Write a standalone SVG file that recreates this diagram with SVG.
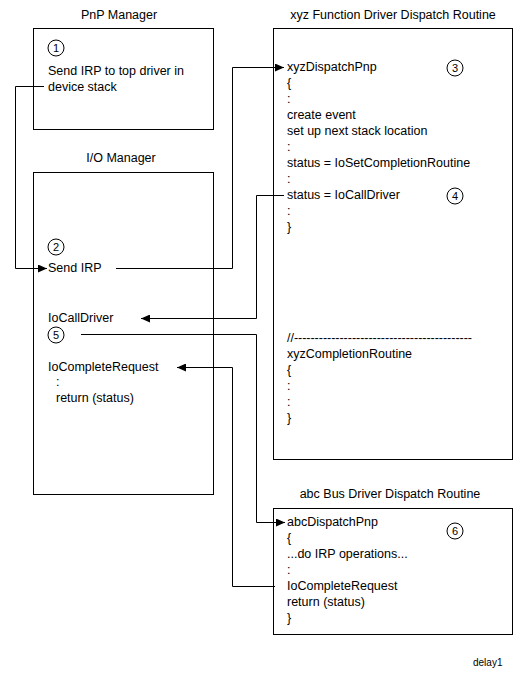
<svg xmlns="http://www.w3.org/2000/svg" width="516" height="679" viewBox="0 0 516 679">
<style>
text{font-family:"Liberation Sans",Arial,sans-serif;font-size:12.5px;fill:#000}
.t{text-anchor:middle}
.box{fill:#fff;stroke:#000;stroke-width:1}
.num circle{fill:none;stroke:#000;stroke-width:1}
.num text{font-size:11px;text-anchor:middle}
.c{fill:none;stroke:#000;stroke-width:1}
.small{font-size:10px}
</style>
<defs>
<marker id="ah" markerUnits="userSpaceOnUse" markerWidth="9" markerHeight="8" refX="9" refY="4" orient="auto">
<path d="M0,0 L9,4 L0,8 z" fill="#000"/>
</marker>
</defs>
<rect width="516" height="679" fill="#fff"/>

<g id="pnp-manager">
<text class="t" x="119" y="19">PnP Manager</text>
<rect class="box" x="33.5" y="28.5" width="180" height="101"/>
<g class="num"><circle cx="56" cy="48" r="8"/><text x="56" y="52">1</text></g>
<text x="48" y="75">Send IRP to top driver in</text>
<text x="48" y="91">device stack</text>
</g>

<g id="io-manager">
<text class="t" x="121" y="162">I/O Manager</text>
<rect class="box" x="33.5" y="172.5" width="180" height="322"/>
<g class="num"><circle cx="56" cy="247" r="8"/><text x="56" y="251">2</text></g>
<text x="48" y="272">Send IRP</text>
<text x="48" y="322">IoCallDriver</text>
<g class="num"><circle cx="56" cy="335" r="8"/><text x="56" y="339">5</text></g>
<text x="48" y="371">IoCompleteRequest</text>
<text x="56" y="386">:</text>
<text x="56" y="402">return (status)</text>
</g>

<g id="xyz-driver">
<text class="t" x="393" y="19">xyz Function Driver Dispatch Routine</text>
<rect class="box" x="273.5" y="28.5" width="239" height="431"/>
<text x="287" y="71">xyzDispatchPnp</text>
<text x="287" y="87">{</text>
<text x="287" y="103">:</text>
<text x="287" y="119">create event</text>
<text x="287" y="135">set up next stack location</text>
<text x="287" y="151">:</text>
<text x="287" y="167">status = IoSetCompletionRoutine</text>
<text x="287" y="183">:</text>
<text x="287" y="199">status = IoCallDriver</text>
<text x="287" y="215">:</text>
<text x="287" y="231">}</text>
<g class="num"><circle cx="455" cy="68" r="8"/><text x="455" y="72">3</text></g>
<g class="num"><circle cx="455" cy="196" r="8"/><text x="455" y="200">4</text></g>
<text x="287" y="342" textLength="185" lengthAdjust="spacing">//-------------------------------------------</text>
<text x="287" y="358">xyzCompletionRoutine</text>
<text x="287" y="374">{</text>
<text x="287" y="390">:</text>
<text x="287" y="406">:</text>
<text x="287" y="422">}</text>
</g>

<g id="abc-driver">
<text class="t" x="390" y="498">abc Bus Driver Dispatch Routine</text>
<rect class="box" x="273.5" y="508.5" width="239" height="126"/>
<text x="287" y="526">abcDispatchPnp</text>
<text x="287" y="542">{</text>
<text x="287" y="558">...do IRP operations...</text>
<text x="287" y="574">:</text>
<text x="287" y="590">IoCompleteRequest</text>
<text x="287" y="606">return (status)</text>
<text x="287" y="622">}</text>
<g class="num"><circle cx="455" cy="531" r="8"/><text x="455" y="535">6</text></g>
</g>

<g id="connectors">
<path class="c" d="M44,86.5 H15.5 V268.5 H47" marker-end="url(#ah)"/>
<path class="c" d="M116,268.5 H232.5 V67.5 H284" marker-end="url(#ah)"/>
<path class="c" d="M284,195.5 H256.5 V318.5 H141" marker-end="url(#ah)"/>
<path class="c" d="M81,334.5 H256.5 V522.5 H285" marker-end="url(#ah)"/>
<path class="c" d="M275,586.5 H232.5 V367.5 H177" marker-end="url(#ah)"/>
</g>

<text class="small" x="473" y="666">delay1</text>
</svg>
